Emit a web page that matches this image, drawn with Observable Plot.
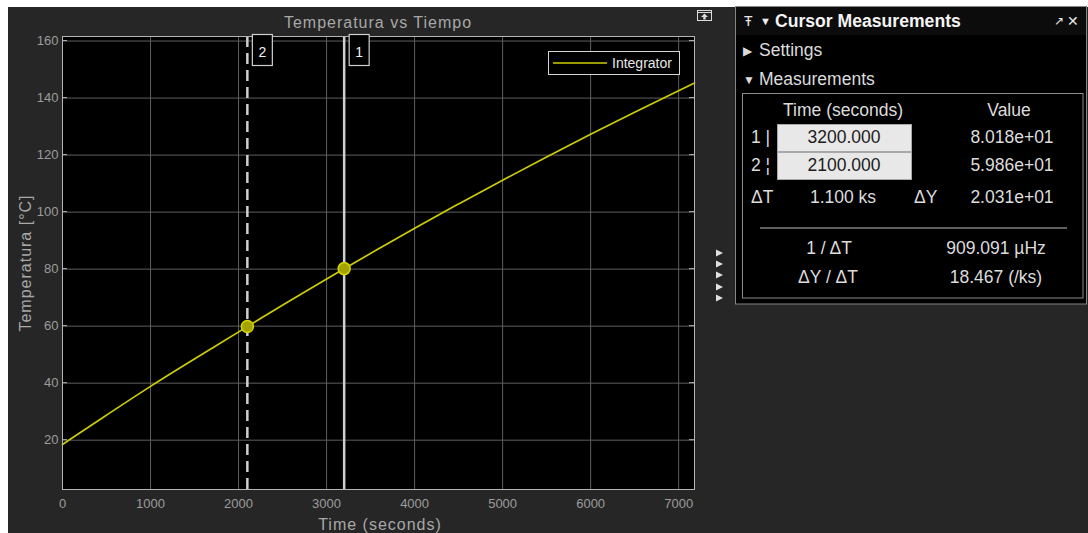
<!DOCTYPE html>
<html><head><meta charset="utf-8">
<script src="https://cdn.jsdelivr.net/npm/d3@7"></script>
<script src="https://cdn.jsdelivr.net/npm/@observablehq/plot@0.6"></script>
<style>
html,body{margin:0;padding:0;background:#fff;}
body{width:1088px;height:533px;position:relative;overflow:hidden;font-family:"Liberation Sans",Arial,sans-serif;}
#fig{position:absolute;left:8px;top:7px;width:1080px;height:526px;background:#262626;}
#chart{position:absolute;left:0;top:0;}
#panel{position:absolute;left:0;top:0;}
</style></head>
<body>
<div id="fig"></div>
<div id="chart"></div>
<svg id="panel" width="1088" height="533"></svg>
<script>
// ---- data ----
const xTicks = [0, 1000, 2000, 3000, 4000, 5000, 6000, 7000];
const yTicks = [20, 40, 60, 80, 100, 120, 140, 160];
const times = [0, 500, 1000, 1500, 2100, 2500, 3200, 3600, 4000, 4500, 5000, 5500, 6000, 6500, 7000, 7180];
const temps = [18.5, 28.8, 39.0, 48.5, 59.86, 67.4, 80.18, 87.3, 94.4, 102.9, 111.2, 119.4, 127.3, 135.1, 142.6, 145.3];
const seriesName = "Integrator";
const cursorIds = ["1", "2"];
const cursorTimes = [3200, 2100];
const cursorValues = [80.18, 59.86];
const cursorDashed = [false, true];
const titleText = "Temperatura vs Tiempo";
const xLabel = "Time (seconds)";
const yLabel = "Temperatura [°C]";
const measTimes = ["3200.000", "2100.000"];
const measValues = ["8.018e+01", "5.986e+01"];
const deltaT = "1.100 ks";
const deltaY = "2.031e+01";
const invDT = "909.091 µHz";
const slope = "18.467 (/ks)";

const lineColor = "#cccc00";
const data = times.map((t, i) => ({t, v: temps[i]}));
const cursors = cursorIds.map((id, i) => ({id, t: cursorTimes[i], v: cursorValues[i], dashed: cursorDashed[i]}));

const chart = Plot.plot({
  width: 730, height: 533,
  marginLeft: 62, marginRight: 36, marginTop: 36, marginBottom: 44,
  style: {background: "transparent", fontFamily: "Liberation Sans, Arial, sans-serif", fontSize: "13px", color: "#9c9c9c", overflow: "visible"},
  x: {domain: [0, 7180]},
  y: {domain: [2.7, 161.6]},
  marks: [
    Plot.frame({fill: "#000"}),
    Plot.gridX(xTicks, {stroke: "#5e5e5e", strokeOpacity: 1}),
    Plot.gridY(yTicks, {stroke: "#5e5e5e", strokeOpacity: 1}),
    Plot.axisX(xTicks, {tickSize: 0, tickPadding: 9, label: null, fill: "#9c9c9c", tickFormat: d => String(d)}),
    Plot.axisY(yTicks, {tickSize: 0, tickPadding: 4, label: null, fill: "#9c9c9c"}),
    Plot.ruleX(cursors.filter(c => !c.dashed), {x: "t", stroke: "#cfcfcf", strokeWidth: 2.5}),
    Plot.ruleX(cursors.filter(c => c.dashed), {x: "t", stroke: "#cfcfcf", strokeWidth: 2.5, strokeDasharray: "11,6"}),
    Plot.line(data, {x: "t", y: "v", stroke: lineColor, strokeWidth: 1.7, curve: "basis"}),
    Plot.dot(cursors, {x: "t", y: "v", r: 6, fill: "#a3a300", stroke: "#d6d600", strokeWidth: 1.5}),
    Plot.frame({stroke: "#b4b4b4"})
  ]
});
document.getElementById("chart").appendChild(chart);

const svg = d3.select(chart);
const xs = chart.scale("x");
const font = "Liberation Sans, Arial, sans-serif";

// title & labels
svg.append("text").attr("x", 378).attr("y", 28).attr("text-anchor", "middle")
  .attr("fill", "#a8a8a8").attr("font-size", 16).attr("letter-spacing", 1).attr("font-family", font).text(titleText);
svg.append("text").attr("x", 380).attr("y", 530).attr("text-anchor", "middle")
  .attr("fill", "#a8a8a8").attr("font-size", 16).attr("letter-spacing", 1).attr("font-family", font).text(xLabel);
svg.append("text").attr("transform", "translate(31,263) rotate(-90)").attr("text-anchor", "middle")
  .attr("fill", "#a8a8a8").attr("font-size", 16).attr("letter-spacing", 1).attr("font-family", font).text(yLabel);

// small inward ticks on left and right edges
const ysc = chart.scale("y");
yTicks.forEach(v => {
  const y = ysc.apply(v);
  svg.append("line").attr("x1", 62).attr("x2", 67).attr("y1", y).attr("y2", y).attr("stroke", "#b4b4b4");
  svg.append("line").attr("x1", 689).attr("x2", 694).attr("y1", y).attr("y2", y).attr("stroke", "#b4b4b4");
});

// cursor label boxes
cursors.forEach(c => {
  const x0 = xs.apply(c.t) + 5.5;
  svg.append("rect").attr("x", x0).attr("y", 34.5).attr("width", 20).attr("height", 31)
    .attr("fill", "#000").attr("stroke", "#d0d0d0").attr("stroke-width", 1.2);
  svg.append("text").attr("x", x0 + 10).attr("y", 57).attr("text-anchor", "middle")
    .attr("fill", "#f0f0f0").attr("font-size", 14).attr("font-family", font).text(c.id);
});

// legend
svg.append("rect").attr("x", 548.5).attr("y", 51.5).attr("width", 131).attr("height", 23)
  .attr("fill", "#000").attr("stroke", "#d6d6d6").attr("stroke-width", 1);
svg.append("line").attr("x1", 553).attr("x2", 607).attr("y1", 63).attr("y2", 63).attr("stroke", lineColor).attr("stroke-width", 1.5);
svg.append("text").attr("x", 612).attr("y", 68).attr("text-anchor", "start").attr("fill", "#e6e6e6")
  .attr("font-size", 14).attr("font-family", font).text(seriesName);

// undock icon
svg.append("rect").attr("x", 697.5).attr("y", 10.5).attr("width", 14).attr("height", 10).attr("fill", "none").attr("stroke", "#dcdcdc");
svg.append("line").attr("x1", 697.5).attr("x2", 711.5).attr("y1", 12.5).attr("y2", 12.5).attr("stroke", "#dcdcdc");
svg.append("path").attr("d", "M704.5 13.5 L701 17 H703.3 V19.5 H705.7 V17 H708 Z").attr("fill", "#dcdcdc");

// side triangles
[253, 264, 275, 287, 298].forEach(y => {
  svg.append("path").attr("d", `M716 ${y - 3.5} L723 ${y} L716 ${y + 3.5} Z`).attr("fill", "#e0e0e0");
});

// ---- measurement panel ----
const p = d3.select("#panel");
const txt = (x, y, s, opts = {}) => p.append("text").attr("x", x).attr("y", y)
  .attr("font-family", font).attr("font-size", opts.size || 17.5)
  .attr("font-weight", opts.bold ? "bold" : "normal")
  .attr("fill", opts.fill || "#dcdcdc").attr("text-anchor", opts.anchor || "start").text(s);

p.append("rect").attr("x", 735.5).attr("y", 6.5).attr("width", 351).attr("height", 297.5)
  .attr("fill", "#000").attr("stroke", "#858585");
p.append("rect").attr("x", 736).attr("y", 7).attr("width", 350).attr("height", 28).attr("fill", "#0c0c0c");
txt(744, 26, "Ŧ", {size: 14, fill: "#e8e8e8"});
txt(760, 25, "▼", {size: 11, fill: "#f0f0f0"});
txt(775, 27, "Cursor Measurements", {size: 17.6, bold: true, fill: "#f4f4f4"});
txt(1054, 25, "↗", {size: 12, fill: "#e8e8e8"});
txt(1067, 26, "✕", {size: 14, fill: "#e8e8e8"});
txt(743, 55, "▶", {size: 12, fill: "#dcdcdc"});
txt(759, 56, "Settings");
txt(743, 84, "▼", {size: 12, fill: "#dcdcdc"});
txt(759, 85, "Measurements");

p.append("rect").attr("x", 742.5).attr("y", 93.5).attr("width", 340.5).attr("height", 204.5)
  .attr("fill", "#000").attr("stroke", "#8c8c8c");
txt(843, 116, "Time (seconds)", {anchor: "middle"});
txt(1009, 116, "Value", {anchor: "middle"});
const rowY = [124, 152];
const marks = ["1 |", "2 ¦"];
rowY.forEach((y, i) => {
  p.append("rect").attr("x", 777.5).attr("y", y + 0.5).attr("width", 134).attr("height", 27)
    .attr("fill", "#e8e8e8").attr("stroke", "#a8a8a8");
  txt(844, y + 19, measTimes[i], {anchor: "middle", fill: "#1c1c1c"});
  txt(751, y + 19, marks[i]);
  txt(1012, y + 19, measValues[i], {anchor: "middle"});
});
txt(751, 203, "ΔT");
txt(843, 203, deltaT, {anchor: "middle"});
txt(914, 203, "ΔY");
txt(1012, 203, deltaY, {anchor: "middle"});
p.append("line").attr("x1", 760).attr("x2", 1067).attr("y1", 228).attr("y2", 228).attr("stroke", "#c0c0c0").attr("stroke-width", 1.2);
txt(829, 254, "1 / ΔT", {anchor: "middle"});
txt(996, 254, invDT, {anchor: "middle"});
txt(828, 283, "ΔY / ΔT", {anchor: "middle"});
txt(996, 283, slope, {anchor: "middle"});
</script>
</body></html>
